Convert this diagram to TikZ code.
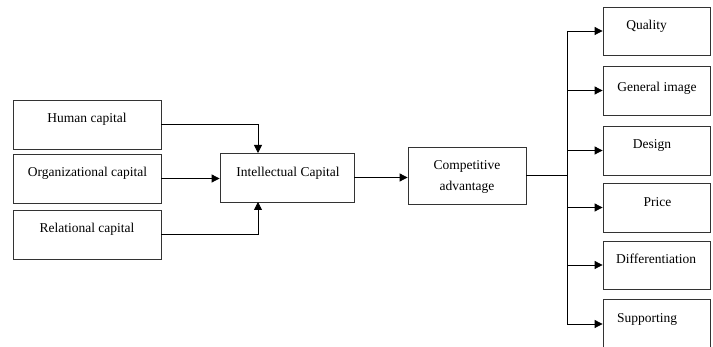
\documentclass[tikz,border=0pt]{standalone}
\usepackage{fontspec}
\setmainfont{Liberation Serif}
\usetikzlibrary{arrows.meta}
\begin{document}
\begin{tikzpicture}[x=1pt,y=-1pt,
  box/.style={draw=black!80,line width=0.8pt,inner sep=0pt,minimum width=#1,minimum height=49pt},
  lbl/.style={anchor=base,inner sep=0pt,font=\fontsize{13.5}{15}\selectfont},
  con/.style={draw=black,line width=0.8pt},
  arr/.style={con,-{Triangle[length=8pt,width=8pt]}}]
\useasboundingbox (0,0) rectangle (713,347);
% left boxes
\node[box=148pt] (h) at (87,124.5) {};
\node[box=148pt] (o) at (87,178.5) {};
\node[box=148pt] (r) at (87,234.5) {};
\node[lbl] (ht) at (87,123) {Human capital};
\node[lbl] (ot) at (87.5,177) {Organizational capital};
\node[lbl] (rt) at (87,233) {Relational capital};
% intellectual capital
\node[box=134pt] (ic) at (287,177.5) {};
\node[lbl] (ict) at (288,177) {Intellectual Capital};
% competitive advantage
\node[box=118pt,minimum height=57pt] (ca) at (467,175.5) {};
\node[lbl] (cat1) at (467,170) {Competitive};
\node[lbl] (cat2) at (467,190.5) {advantage};
% right boxes
\node[box=107pt,minimum height=48pt] (q) at (656.5,31) {};
\node[box=107pt] (g) at (656.5,90.5) {};
\node[box=107pt] (d) at (656.5,150.5) {};
\node[box=107pt] (p) at (656.5,207.5) {};
\node[box=107pt,minimum height=48pt] (df) at (656.5,265) {};
\node[box=107pt,minimum height=50pt] (s) at (656.5,324) {};
\node[lbl] (qt) at (646.5,30) {Quality};
\node[lbl] (gt) at (657,92) {General image};
\node[lbl] (dt) at (652,149) {Design};
\node[lbl] (pt) at (657.5,207) {Price};
\node[lbl] (dft) at (656,264) {Differentiation};
\node[lbl] (st) at (647,323) {Supporting};
% connectors
\coordinate (icin1) at (258,153);
\coordinate (icin2) at (258,202);
\draw[arr] (h.east) -| (icin1);
\draw[arr] (o.east) -- (o.east -| ic.west);
\draw[arr] (r.east) -| (icin2);
\draw[arr] (ic.east) -- (ic.east -| ca.west);
\coordinate (bx) at (567,0);
\draw[con] (ca.east) -- (ca.east -| bx);
\draw[con] (bx |- q.west) -- (bx |- s.west);
\foreach \t in {q,g,d,p,df,s}{
  \draw[arr] (bx |- \t.west) -- (\t.west);
}
\end{tikzpicture}
\end{document}
